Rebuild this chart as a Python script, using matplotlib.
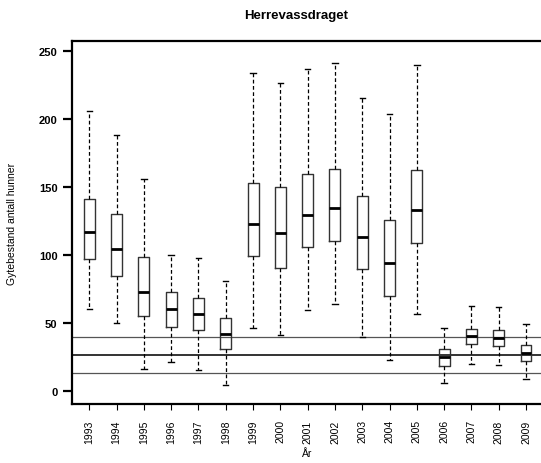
import matplotlib
matplotlib.use("Agg")
import matplotlib.pyplot as plt
from matplotlib import font_manager as fm

_cands = [f for f in fm.fontManager.ttflist
          if f.name == 'Liberation Sans' and 'Narrow' not in f.fname]
for f in _cands:
    fm.fontManager.addfont(f.fname)
plt.rcParams['font.family'] = ['Liberation Sans', 'DejaVu Sans']
plt.rcParams['font.stretch'] = 'normal'

years = [str(y) for y in range(1993, 2010)]
whislo = [60.4, 49.6, 16.0, 21.1, 15.5, 4.0, 46.2, 41.3, 59.2, 63.6, 39.3, 22.8, 56.7, 5.9, 19.7, 18.9, 8.4]
q1     = [97.0, 84.5, 54.8, 46.7, 44.5, 30.5, 99.2, 90.4, 105.9, 110.0, 89.9, 69.5, 108.8, 18.2, 34.6, 33.1, 21.9]
med    = [116.7, 104.1, 72.9, 60.2, 56.3, 41.8, 123.0, 116.2, 129.7, 134.6, 113.0, 94.1, 133.1, 24.6, 40.5, 39.0, 27.8]
q3     = [141.2, 129.9, 98.5, 72.5, 68.0, 53.5, 153.2, 150.0, 159.9, 163.5, 143.4, 125.7, 162.8, 30.9, 45.4, 44.9, 33.9]
whishi = [205.8, 188.6, 156.2, 100.2, 97.5, 80.6, 234.3, 226.4, 236.7, 241.6, 215.6, 204.0, 240.1, 46.4, 62.4, 61.9, 48.9]
ref_lines = [13.0, 26.3, 39.8]
yticks = [0, 50, 100, 150, 200, 250]

fig = plt.figure(figsize=(5.41, 4.64), dpi=100)
ax = fig.add_axes([72/541, 1-405/464, (543.3-72)/541, (405-42)/464])

stats = [dict(whislo=a, q1=b, med=c, q3=d, whishi=e, label=y)
         for a, b, c, d, e, y in zip(whislo, q1, med, q3, whishi, years)]
positions = list(range(1, len(years)+1))

ax.axhline(ref_lines[0], color='#555555', lw=0.9, zorder=1)
ax.axhline(ref_lines[1], color='#333333', lw=1.4, zorder=1)
ax.axhline(ref_lines[2], color='#555555', lw=0.9, zorder=1)

ax.bxp(stats, positions=positions, widths=0.4, showfliers=False,
       boxprops=dict(color='#333333', lw=1.0),
       medianprops=dict(color='black', lw=2.0),
       whiskerprops=dict(color='black', lw=0.9, linestyle=(0, (3, 2))),
       capprops=dict(color='black', lw=1.0),
       capwidths=0.2, patch_artist=False)

ax.set_xlim(0.366, 17.634)
ax.set_ylim(-9.8, 257.6)
ax.set_yticks(yticks)
ax.set_yticklabels([str(v) for v in yticks], fontsize=8, fontweight='bold')
ax.set_xticks(positions)
ax.set_xticklabels(years, rotation=90, fontsize=7.5)
for s in ax.spines.values():
    s.set_linewidth(1.6)
ax.tick_params(axis='y', length=6.5, width=1.6, pad=4)
ax.tick_params(axis='x', length=4, width=0.8, pad=7)

ax.set_ylabel('Gytebestand antall hunner', fontsize=7.5)
ax.yaxis.set_label_coords(-(72-17)/(543.3-72), 0.5)
ax.set_xlabel('År', fontsize=7.5, labelpad=4)
fig.text(296/541, 1-16/464, 'Herrevassdraget', ha='center', va='center',
         fontsize=9.5, fontweight='bold')

fig.savefig('out.png', dpi=100)
